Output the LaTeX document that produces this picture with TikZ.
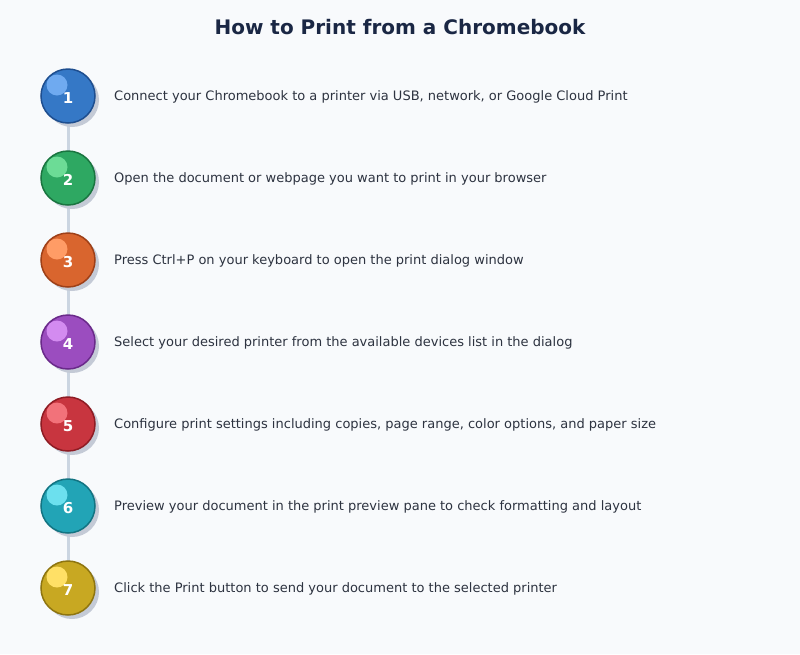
\documentclass[tikz,border=0pt]{standalone}
\usepackage{fontspec}
\setmainfont{DejaVu Sans}
\definecolor{bg}{HTML}{F8FAFC}
\definecolor{titlec}{HTML}{1A2744}
\definecolor{textc}{HTML}{2D3340}
\definecolor{linec}{HTML}{CBD5E1}
\definecolor{shadowc}{HTML}{C4CAD6}
\definecolor{c1}{HTML}{3578C6}\definecolor{d1}{HTML}{1E4E8F}\definecolor{h1}{HTML}{6FAAF0}
\definecolor{c2}{HTML}{2EA862}\definecolor{d2}{HTML}{1A7540}\definecolor{h2}{HTML}{6CDC96}
\definecolor{c3}{HTML}{D9652E}\definecolor{d3}{HTML}{9E4018}\definecolor{h3}{HTML}{FF9C66}
\definecolor{c4}{HTML}{9B4DBF}\definecolor{d4}{HTML}{6A2A8A}\definecolor{h4}{HTML}{D38BF0}
\definecolor{c5}{HTML}{C8353F}\definecolor{d5}{HTML}{8E1C24}\definecolor{h5}{HTML}{F2727A}
\definecolor{c6}{HTML}{22A4B6}\definecolor{d6}{HTML}{137482}\definecolor{h6}{HTML}{6CE0EE}
\definecolor{c7}{HTML}{C8A822}\definecolor{d7}{HTML}{8E7510}\definecolor{h7}{HTML}{FFE066}
\tikzset{
  stepcircle/.style={circle, minimum size=54pt, inner sep=0pt, line width=1.5pt},
  shadowdisc/.style={circle, minimum size=54pt, inner sep=0pt, fill=shadowc},
  hilite/.style={circle, minimum size=21pt, inner sep=0pt},
  numtext/.style={text=white, font=\bfseries\fontsize{15}{18}\selectfont},
  steptext/.style={anchor=west, text=textc, font=\fontsize{13}{16}\selectfont, inner sep=0pt},
  timeline/.style={draw=linec, line width=3pt}
}
\begin{document}
\begin{tikzpicture}[x=1pt,y=-1pt]
\fill[bg] (0,0) rectangle (800,654);
\useasboundingbox (0,0) rectangle (800,654);
\node[text=titlec, font=\bfseries\fontsize{20}{24}\selectfont] (title) at (400,27) {How to Print from a Chromebook};
\coordinate (top) at (68,96);
\coordinate (bot) at (68,588);
\draw[timeline] (top) -- (bot);
\foreach \i/\t in {1/{Connect your Chromebook to a printer via USB, network, or Google Cloud Print},
  2/{Open the document or webpage you want to print in your browser},
  3/{Press Ctrl+P on your keyboard to open the print dialog window},
  4/{Select your desired printer from the available devices list in the dialog},
  5/{Configure print settings including copies, page range, color options, and paper size},
  6/{Preview your document in the print preview pane to check formatting and layout},
  7/{Click the Print button to send your document to the selected printer}}{
  \pgfmathsetmacro{\yy}{96+82*(\i-1)}
  \node[shadowdisc] (s\i) at (72,\yy+4) {};
  \node[stepcircle, fill=c\i, draw=d\i] (c\i) at (68,\yy) {};
  \node[hilite, fill=h\i] (h\i) at (57,\yy-11) {};
  \node[numtext] (n\i) at (68,\yy+2) {\i};
  \node[steptext] (t\i) at (114,\yy+1) {\t};
}
\end{tikzpicture}
\end{document}
